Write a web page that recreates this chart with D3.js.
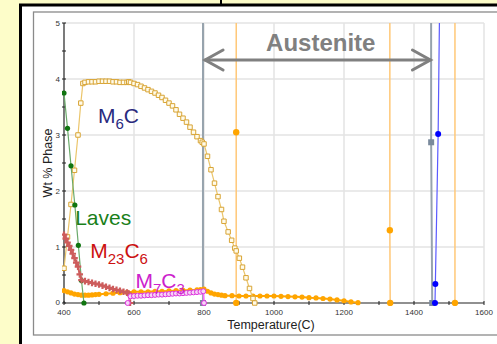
<!DOCTYPE html>
<html><head><meta charset="utf-8">
<script src="https://cdn.jsdelivr.net/npm/d3@7/dist/d3.min.js"></script>
<style>body{margin:0;background:#fdfdc9;}svg{display:block;font-family:"Liberation Sans",Arial,sans-serif;}</style>
</head><body><svg id="c" width="497" height="344"></svg>
<script>
// ---- data ----
const xTicks = [400, 600, 800, 1000, 1200, 1400, 1600];
const yTicks = [0, 1, 2, 3, 4, 5];
const m6cT = [400,410,420,430,440,448,454,460,470,480,490,500,510,520,530,540,550,560,570,580,585,590,600,610,620,630,640,650,660,670,680,690,700,710,720,730,740,750,760,770,780,790,795,800,810,820,830,840,850,857,869,879,888,892,901,910,920,930,940,945];
const m6cV = [0.62,1.18,1.76,2.37,3.0,3.57,3.92,3.94,3.95,3.95,3.95,3.96,3.96,3.96,3.96,3.95,3.95,3.94,3.94,3.94,3.95,3.94,3.92,3.9,3.87,3.84,3.81,3.78,3.75,3.71,3.67,3.62,3.57,3.52,3.45,3.37,3.3,3.23,3.14,3.05,2.97,2.9,2.87,2.84,2.62,2.38,2.14,1.9,1.67,1.46,1.27,1.12,0.98,0.93,0.8,0.64,0.45,0.26,0.08,0];
const lavesT = [400,410,420,431,441,450,457];
const lavesV = [3.75,3.12,2.45,1.75,1.03,0.4,0];
const m23T = [400,405,410,415,420,425,430,435,440,445,450,460,470,480,490,500,510,520,530,540,550,560,570,580,585,589];
const m23V = [1.22,1.15,1.08,1.02,0.95,0.88,0.8,0.72,0.65,0.51,0.41,0.39,0.375,0.36,0.345,0.33,0.31,0.29,0.27,0.25,0.235,0.22,0.2,0.185,0.17,0];
const m7T = [582,590,600,610,620,630,640,650,660,670,680,690,700,710,720,730,740,750,760,770,780,790,798,800];
const m7V = [0,0.12,0.125,0.13,0.13,0.135,0.14,0.14,0.145,0.15,0.15,0.155,0.16,0.165,0.17,0.17,0.175,0.18,0.185,0.19,0.195,0.2,0.21,0];
const mcT = [400,410,420,430,440,450,460,470,480,490,500,520,540,560,580,600,620,640,660,680,700,720,740,760,780,790,800,810,820,830,840,850,860,880,900,920,940,960,980,1000,1020,1040,1060,1080,1100,1120,1140,1160,1180,1200,1220,1240];
const mcV = [0.22,0.2,0.18,0.16,0.15,0.14,0.14,0.14,0.145,0.15,0.155,0.165,0.175,0.185,0.19,0.2,0.2,0.2,0.21,0.21,0.215,0.22,0.225,0.23,0.235,0.24,0.25,0.21,0.18,0.16,0.15,0.14,0.13,0.13,0.125,0.125,0.125,0.125,0.125,0.125,0.12,0.115,0.11,0.105,0.095,0.09,0.08,0.07,0.055,0.04,0.02,0.005];
const orA_T = [892,892,893];   const orA_V = [0,3.05,20];
const orB_T = [1331,1331,1332]; const orB_V = [20,1.3,0];
const orC_T = [1517,1517];     const orC_V = [0,20];
const blueT = [1460,1461,1469,1478]; const blueV = [0,0.34,3.02,8];
const grayT = [797,798,1448,1449,1452]; const grayV = [0,30,30,2.87,0];
const arrowT = [803, 1447];
const labels = [
  {parts:[["M",0],["6",1],["C",0]], T:497, v:3.22, color:"#2a2a7e"},
  {parts:[["Laves",0]], T:432, v:1.39, color:"#1a7f1a"},
  {parts:[["M",0],["23",1],["C",0],["6",1]], T:475, v:0.8, color:"#cc1111"},
  {parts:[["M",0],["7",1],["C",0],["3",1]], T:604, v:0.27, color:"#cc22cc"}
];

// ---- chart ----
const svg = d3.select("#c");
svg.append("rect").attr("width",497).attr("height",344).attr("fill","#fdfdc9");
svg.append("rect").attr("x",20.5).attr("y",5).attr("width",500).attr("height",360).attr("fill","#fff").attr("stroke","#000").attr("stroke-width",3);
svg.append("line").attr("x1",221).attr("x2",221).attr("y1",0).attr("y2",5).attr("stroke","#000").attr("stroke-width",2);
svg.append("rect").attr("x",33.5).attr("y",12).attr("width",480).attr("height",323).attr("fill","#fff").attr("stroke","#8a8a8a").attr("stroke-width",1.3);

const x = d3.scaleLinear().domain([400,1600]).range([64,484]);
const y = d3.scaleLinear().domain([0,5]).range([303,23]);

svg.append("defs").append("clipPath").attr("id","clip").append("rect")
  .attr("x",62).attr("y",23).attr("width",424).attr("height",283);

// grid
const g = svg.append("g");
g.selectAll(".gx").data(xTicks.slice(1)).join("line").attr("x1",d=>x(d)).attr("x2",d=>x(d))
  .attr("y1",y(0)).attr("y2",y(5)).attr("stroke","#e3e3e3").attr("stroke-width",1.5);
g.selectAll(".gy").data(yTicks.slice(1)).join("line").attr("x1",x(400)).attr("x2",x(1600))
  .attr("y1",d=>y(d)).attr("y2",d=>y(d)).attr("stroke","#e3e3e3").attr("stroke-width",1.5);

// axes
const xa = svg.append("g").attr("transform",`translate(0,${y(0)})`);
xa.append("line").attr("x1",x(400)).attr("x2",x(1600)).attr("stroke","#222").attr("stroke-width",1.2);
xa.selectAll(".t").data(d3.range(400,1601,100)).join("line").attr("x1",d=>x(d)).attr("x2",d=>x(d))
  .attr("y1",-2).attr("y2",2).attr("stroke","#222");
xa.selectAll("text").data(xTicks).join("text").attr("x",d=>x(d)).attr("y",11.5).attr("text-anchor","middle")
  .attr("font-size",8).attr("fill","#333").text(d=>d);
const ya = svg.append("g").attr("transform",`translate(${x(400)},0)`);
ya.append("line").attr("y1",y(0)).attr("y2",y(5)).attr("stroke","#222").attr("stroke-width",1.2);
ya.selectAll(".t").data(d3.range(0,5.01,0.5)).join("line").attr("y1",d=>y(d)).attr("y2",d=>y(d))
  .attr("x1",-2).attr("x2",2).attr("stroke","#222");
ya.selectAll("text").data(yTicks).join("text").attr("x",-4).attr("y",d=>y(d)+(d===0?2:3)).attr("text-anchor","end")
  .attr("font-size",8).attr("fill","#333").text(d=>d);

svg.append("text").attr("x",271).attr("y",329).attr("text-anchor","middle").attr("font-size",12.5).attr("fill","#222").text("Temperature(C)");
svg.append("text").attr("transform","translate(52,163) rotate(-90)").attr("text-anchor","middle").attr("font-size",12.5).attr("fill","#222").text("Wt % Phase");

const plot = svg.append("g").attr("clip-path","url(#clip)");
const line = d3.line().x(d=>x(d[0])).y(d=>y(d[1]));
const zip = (a,b)=>a.map((t,i)=>[t,b[i]]);

function series(T,V,o){
  const d = zip(T,V);
  plot.append("path").datum(d).attr("d",line).attr("fill","none").attr("stroke",o.line).attr("stroke-width",o.lw);
  if(o.marker==="circle"){
    plot.selectAll(null).data(d).join("circle").attr("cx",p=>x(p[0])).attr("cy",p=>y(p[1])).attr("r",o.r)
      .attr("fill",o.fill).attr("stroke",o.stroke||"none").attr("stroke-width",o.sw||0);
  } else if(o.marker){
    const sym = d3.symbol().type(o.marker==="square"?d3.symbolSquare:d3.symbolCross).size(o.size);
    plot.selectAll(null).data(d).join("path").attr("d",sym).attr("transform",p=>`translate(${x(p[0])},${y(p[1])})`)
      .attr("fill",o.fill).attr("stroke",o.stroke||"none").attr("stroke-width",o.sw||0);
  }
}
series(grayT,grayV,{line:"#97a3ad",lw:2,marker:"square",size:36,fill:"#7a8a9c"});
series(orA_T,orA_V,{line:"#ffc878",lw:1.5,marker:"circle",r:3.2,fill:"#ffa500"});
series(orB_T,orB_V,{line:"#ffc878",lw:1.5,marker:"circle",r:3.2,fill:"#ffa500"});
series(orC_T,orC_V,{line:"#ffc878",lw:1.5,marker:"circle",r:3.2,fill:"#ffa500"});
series(blueT,blueV,{line:"#5a5aff",lw:1.2,marker:"circle",r:3,fill:"#0000ff"});
series(mcT,mcV,{line:"#ffa500",lw:2,marker:"circle",r:2.6,fill:"#ffa500"});
series(m6cT,m6cV,{line:"#ebc56a",lw:1.2,marker:"square",size:20,fill:"#fffbea",stroke:"#d8a435",sw:1});
series(lavesT,lavesV,{line:"#6aaa6a",lw:1.2,marker:"circle",r:2.6,fill:"#107510"});
series(m23T,m23V,{line:"#cd6060",lw:2,marker:"cross",size:24,fill:"#cd5c5c"});
series(m7T,m7V,{line:"#ff66ff",lw:1.5,marker:"circle",r:2.5,fill:"#f6d4f6",stroke:"#dd33dd",sw:1});

// Austenite annotation
const ay = 60, ax1 = x(arrowT[0]), ax2 = x(arrowT[1]);
const ag = svg.append("g").attr("stroke","#808080").attr("stroke-width",3).attr("fill","none").attr("stroke-linecap","round");
ag.append("line").attr("x1",ax1).attr("x2",ax2).attr("y1",ay).attr("y2",ay);
ag.append("path").attr("d",`M${ax1+18},${ay-10}L${ax1},${ay}L${ax1+18},${ay+10}`);
ag.append("path").attr("d",`M${ax2-18},${ay-10}L${ax2},${ay}L${ax2-18},${ay+10}`);
svg.append("text").attr("x",(ax1+ax2)/2+3).attr("y",51).attr("text-anchor","middle").attr("font-size",24)
  .attr("font-weight","bold").attr("fill","#808080").text("Austenite");

// phase labels
labels.forEach(l=>{
  const t = svg.append("text").attr("x",x(l.T)).attr("y",y(l.v)).attr("font-size",21).attr("fill",l.color);
  let prev = 0;
  l.parts.forEach(([s,sub])=>{
    const dy = (sub?6:0) - prev; prev = sub?6:0;
    t.append("tspan").attr("dy",dy).attr("font-size",sub?15:21).text(s);
  });
});
</script></body></html>
